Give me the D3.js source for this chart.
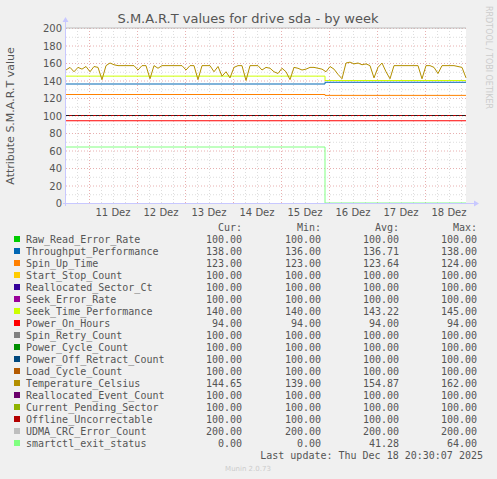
<!DOCTYPE html>
<html><head><meta charset="utf-8">
<script src="https://cdn.jsdelivr.net/npm/d3@7"></script>
<style>body{margin:0;background:#f0f0f0}svg{display:block}</style>
</head><body><div id="c"></div>
<script>
const names=["Raw_Read_Error_Rate","Throughput_Performance","Spin_Up_Time","Start_Stop_Count","Reallocated_Sector_Ct","Seek_Error_Rate","Seek_Time_Performance","Power_On_Hours","Spin_Retry_Count","Power_Cycle_Count","Power_Off_Retract_Count","Load_Cycle_Count","Temperature_Celsius","Reallocated_Event_Count","Current_Pending_Sector","Offline_Uncorrectable","UDMA_CRC_Error_Count","smartctl_exit_status"];
const colors=["#00CC00","#0066B3","#FF8000","#FFCC00","#330099","#990099","#CCFF00","#FF0000","#808080","#008F00","#00487D","#B35A00","#B38F00","#6B006B","#8FB300","#B30000","#BEBEBE","#80FF80"];
// value before / after the change at Dec 15 22:00
const before=[100,136,124,100,100,100,145,94,100,100,100,100,null,100,100,100,200,64];
const after =[100,138,123,100,100,100,140,94,100,100,100,100,null,100,100,100,200,0];
const cur=["100.00","138.00","123.00","100.00","100.00","100.00","140.00","94.00","100.00","100.00","100.00","100.00","144.65","100.00","100.00","100.00","200.00","0.00"];
const mins=["100.00","136.00","123.00","100.00","100.00","100.00","140.00","94.00","100.00","100.00","100.00","100.00","139.00","100.00","100.00","100.00","200.00","0.00"];
const avgs=["100.00","136.71","123.64","100.00","100.00","100.00","143.22","94.00","100.00","100.00","100.00","100.00","154.87","100.00","100.00","100.00","200.00","41.28"];
const maxs=["100.00","138.00","124.00","100.00","100.00","100.00","145.00","94.00","100.00","100.00","100.00","100.00","162.00","100.00","100.00","100.00","200.00","64.00"];
// temperature, every 2 hours starting Dec 10 12:30
const temp=[152,155,150,155,153,156,150,156,155,141,157,160,158,157,157,157,157,157,152,157,157,142,157,154,157,157,157,157,157,157,152,157,157,141,157,157,157,150,156,145,150,143,155,157,157,140,157,157,157,152,155,154,150,148,154,150,141,155,154,152,153,155,155,154,153,150,156,153,147,142,160,161,159,160,158,159,157,143,155,160,150,142,157,157,157,157,157,157,157,142,157,157,155,148,157,157,157,157,156,155,143];
const dayTicks=["11 Dez","12 Dez","13 Dez","14 Dez","15 Dez","16 Dez","17 Dez","18 Dez"];
const yTicks=[0,20,40,60,80,100,120,140,160,180,200];

const W=497,H=479,L=66,R=466,T=28,B=203;
const t0=new Date(2025,11,10,12,30), t1=new Date(2025,11,18,20,30), tc=new Date(2025,11,15,22,0);
const x=d3.scaleTime().domain([t0,t1]).range([L,R]);
const y=d3.scaleLinear().domain([0,200]).range([B,T]);
const svg=d3.select("#c").append("svg").attr("width",W).attr("height",H).style("font-family","'DejaVu Sans',sans-serif");
svg.append("rect").attr("x",L).attr("y",T).attr("width",R-L).attr("height",B-T).attr("fill","#fff");
const g=svg.append("g");
// minor grid
d3.range(0,201,10).forEach(v=>g.append("line").attr("x1",L).attr("x2",R).attr("y1",y(v)+.5).attr("y2",y(v)+.5).attr("stroke",v%20?"#ddd":"#e8b0b0").attr("stroke-dasharray","1,2"));
const mid=d3.timeHour.every(6).range(t0,t1);
mid.forEach(d=>{const major=d.getHours()===0;g.append("line").attr("x1",Math.round(x(d))+.5).attr("x2",Math.round(x(d))+.5).attr("y1",T).attr("y2",B).attr("stroke",major?"#e8b0b0":"#ddd").attr("stroke-dasharray","1,2");});
// series
const line=d3.line().x(d=>x(d[0])).y(d=>y(d[1])).curve(d3.curveStepAfter);
names.forEach((n,i)=>{
  if(before[i]===null){
    const pts=temp.map((v,k)=>[new Date(+t0+k*7200000),v]);
    g.append("path").attr("d",d3.line().x(d=>x(d[0])).y(d=>y(d[1]))(pts)).attr("fill","none").attr("stroke",colors[i]).attr("stroke-width",1);
  } else {
    g.append("path").attr("d",line([[t0,before[i]],[tc,after[i]],[t1,after[i]]])).attr("fill","none").attr("stroke",colors[i]).attr("stroke-width",1);
  }
});
// dashed look on 100 line
g.append("line").attr("x1",L).attr("x2",R).attr("y1",y(100)).attr("y2",y(100)).attr("stroke","#222").attr("stroke-dasharray","3,3").attr("stroke-width",1);
// axes
svg.append("line").attr("x1",L-0.5).attr("x2",L-0.5).attr("y1",B+3).attr("y2",T-8).attr("stroke","#c8c8ff");
svg.append("line").attr("x1",L-3).attr("x2",R+10).attr("y1",B+.5).attr("y2",B+.5).attr("stroke","#c8c8ff");
svg.append("path").attr("d",`M${L-3.5},${T-6}L${L-0.5},${T-11}L${L+2.5},${T-6}Z`).attr("fill","#c8c8ff");
svg.append("path").attr("d",`M${R+8},${B-2.5}L${R+13},${B+.5}L${R+8},${B+3.5}Z`).attr("fill","#c8c8ff");
yTicks.forEach(v=>svg.append("text").attr("x",62).attr("y",y(v)+4).attr("text-anchor","end").attr("font-size",10).attr("fill","#555").text(v));
dayTicks.forEach((s,i)=>{const d=new Date(2025,11,11+i,12);svg.append("text").attr("x",x(d)).attr("y",216).attr("text-anchor","middle").attr("font-size",10).attr("fill","#555").text(s);});
svg.append("text").attr("x",248).attr("y",23).attr("text-anchor","middle").attr("font-size",13).attr("fill","#555").text("S.M.A.R.T values for drive sda - by week");
svg.append("text").attr("transform","translate(14,116) rotate(-90)").attr("text-anchor","middle").attr("font-size",11).attr("fill","#555").text("Attribute S.M.A.R.T value");
svg.append("text").attr("transform","translate(486,6) rotate(90)").attr("font-size",8).attr("fill","#ccc").text("RRDTOOL / TOBI OETIKER");
// legend
const mono="'DejaVu Sans Mono',monospace";
const cols=[[cur,242],[mins,321],[avgs,399],[maxs,477]];
["Cur:","Min:","Avg:","Max:"].forEach((h,j)=>svg.append("text").attr("x",cols[j][1]).attr("y",231).attr("text-anchor","end").attr("font-family",mono).attr("font-size",10).attr("fill","#555").text(h));
names.forEach((n,i)=>{
  const yy=243+i*12;
  svg.append("rect").attr("x",14).attr("y",yy-7).attr("width",6).attr("height",6).attr("fill",colors[i]);
  svg.append("text").attr("x",26).attr("y",yy).attr("font-family",mono).attr("font-size",10).attr("fill","#555").text(n);
  cols.forEach(([arr,cx])=>svg.append("text").attr("x",cx).attr("y",yy).attr("text-anchor","end").attr("font-family",mono).attr("font-size",10).attr("fill","#555").text(arr[i]));
});
svg.append("text").attr("x",483).attr("y",459).attr("text-anchor","end").attr("font-family",mono).attr("font-size",10).attr("fill","#555").text("Last update: Thu Dec 18 20:30:07 2025");
svg.append("text").attr("x",248).attr("y",471).attr("text-anchor","middle").attr("font-size",7).attr("fill","#ccc").text("Munin 2.0.73");
</script></body></html>
